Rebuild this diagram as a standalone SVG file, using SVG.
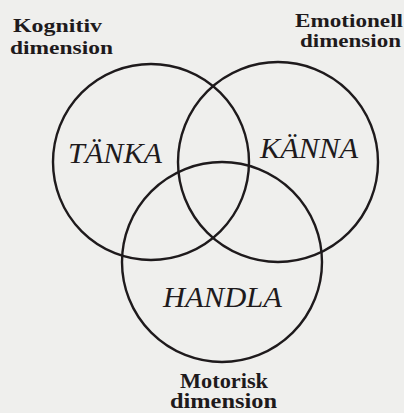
<svg xmlns="http://www.w3.org/2000/svg" width="404" height="413" viewBox="0 0 404 413">
<style>
.bg{fill:#efefed}
.c{fill:none;stroke:#1e1a1c;stroke-width:2.4}
.lab{font-family:"Liberation Serif",serif;font-weight:bold;font-size:19px;fill:#1e1a1c}
.lab1{font-family:"Liberation Serif",serif;font-weight:bold;font-size:18px;fill:#1e1a1c}
.lab2{font-family:"Liberation Serif",serif;font-weight:bold;font-size:20px;fill:#1e1a1c}
.it{font-family:"Liberation Serif",serif;font-style:italic;font-size:29px;fill:#1e1a1c}
</style>
<rect class="bg" width="404" height="413"/>
<g id="connectors"></g>
<g id="tanka">
<circle class="c" cx="151" cy="162" r="98"/>
<text class="it" x="68" y="163" textLength="94" lengthAdjust="spacingAndGlyphs">TÄNKA</text>
</g>
<g id="kanna">
<circle class="c" cx="278" cy="162" r="100"/>
<text class="it" x="260" y="158" textLength="98" lengthAdjust="spacingAndGlyphs">KÄNNA</text>
</g>
<g id="handla">
<circle class="c" cx="222" cy="262" r="100"/>
<text class="it" x="163" y="307" textLength="119" lengthAdjust="spacingAndGlyphs">HANDLA</text>
</g>
<g id="kognitiv">
<text class="lab" x="13" y="32" textLength="89" lengthAdjust="spacingAndGlyphs">Kognitiv</text>
<text class="lab" x="10" y="54" textLength="103" lengthAdjust="spacingAndGlyphs">dimension</text>
</g>
<g id="emotionell">
<text class="lab1" x="295" y="27" textLength="108" lengthAdjust="spacingAndGlyphs">Emotionell</text>
<text class="lab1" x="300" y="47" textLength="101" lengthAdjust="spacingAndGlyphs">dimension</text>
</g>
<g id="motorisk">
<text class="lab2" x="180" y="388" textLength="88" lengthAdjust="spacingAndGlyphs">Motorisk</text>
<text class="lab2" x="170" y="408" textLength="107" lengthAdjust="spacingAndGlyphs">dimension</text>
</g>
</svg>
